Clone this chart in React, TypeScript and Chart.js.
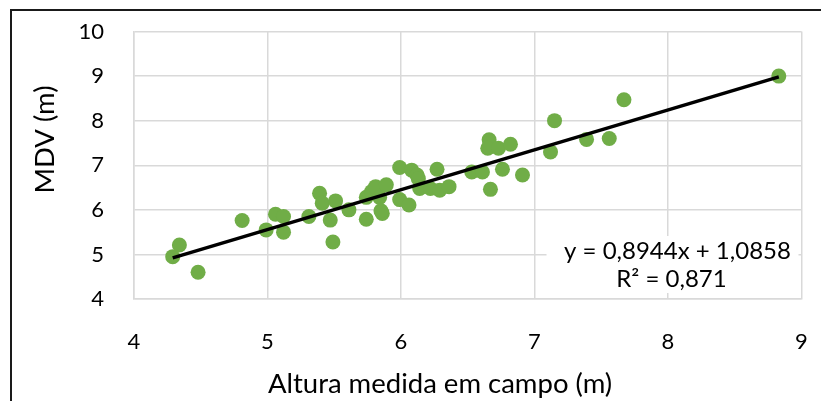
import React, { useEffect, useRef } from "react";
import Chart from "chart.js/auto";

const alturaCampo = [
  4.29, 4.34, 4.48, 4.81, 4.99, 5.06, 5.12, 5.12, 5.31, 5.39, 5.41, 5.47, 5.49, 5.51,
  5.61, 5.74, 5.74, 5.78, 5.81, 5.84, 5.86, 5.85, 5.89, 5.99, 5.99, 6.06, 6.08, 6.12,
  6.13, 6.14, 6.22, 6.27, 6.29, 6.36, 6.53, 6.61, 6.66, 6.65, 6.67, 6.73, 6.76, 6.82,
  6.91, 7.12, 7.15, 7.39, 7.56, 7.67, 8.83,
];
const mdv = [
  4.95, 5.21, 4.6, 5.76, 5.55, 5.9, 5.85, 5.5, 5.85, 6.37, 6.15, 5.77, 5.28, 6.2,
  6.0, 6.28, 5.79, 6.41, 6.52, 6.28, 5.92, 5.98, 6.56, 6.95, 6.23, 6.11, 6.89, 6.78,
  6.7, 6.48, 6.48, 6.91, 6.44, 6.52, 6.85, 6.85, 7.57, 7.38, 6.46, 7.38, 6.91, 7.47,
  6.78, 7.3, 8.0, 7.58, 7.6, 8.47, 9.0,
];
const slope = 0.8944;
const intercept = 1.0858;
const equationLines = ["y = 0,8944x + 1,0858", "R² = 0,871"];
const xTitle = "Altura medida em campo (m)";
const yTitle = "MDV (m)";
const xRange = [4, 9];
const yRange = [4, 10];

const FONT = "Lato, 'Open Sans', sans-serif";

export default function App() {
  const ref = useRef<HTMLCanvasElement | null>(null);
  useEffect(() => {
    document.body.style.margin = "0";
    document.body.style.overflow = "hidden";
    const canvas = ref.current!;
    const points = alturaCampo.map((x, i) => ({ x, y: mdv[i] }));
    const xMin = Math.min(...alturaCampo);
    const xMax = Math.max(...alturaCampo);
    const trend = [
      { x: xMin, y: slope * xMin + intercept },
      { x: xMax, y: slope * xMax + intercept },
    ];
    const overlay = {
      id: "overlay",
      afterDraw(chart: any) {
        const ctx = chart.ctx as CanvasRenderingContext2D;
        const a = chart.chartArea;
        ctx.save();
        // outer frame
        ctx.fillStyle = "#1a1a1a";
        ctx.fillRect(10, 9, chart.width - 10, 2);
        ctx.fillRect(10, 9, 2, chart.height - 9);
        // equation label
        ctx.fillStyle = "#ffffff";
        ctx.fillRect(a.right - 255, a.bottom - 63, 252, 57);
        ctx.fillStyle = "#000000";
        ctx.font = `24px ${FONT}`;
        ctx.textAlign = "center";
        ctx.textBaseline = "middle";
        ctx.fillText(equationLines[0], a.right - 124, a.bottom - 48);
        ctx.fillText(equationLines[1], a.right - 130, a.bottom - 20);
        // axis titles
        ctx.font = `27.5px ${FONT}`;
        ctx.fillStyle = "#000000";
        ctx.fillText(xTitle, a.left + 306, chart.height - 17);
        ctx.save();
        ctx.translate(45, a.top + 108);
        ctx.rotate(-Math.PI / 2);
        ctx.fillText(yTitle, 0, 0);
        ctx.restore();
        ctx.restore();
      },
    };
    const gridColor = "#d9d9d9";
    const chart = new Chart(canvas, {
      type: "scatter",
      data: {
        datasets: [
          {
            data: trend,
            showLine: true,
            borderColor: "#000000",
            borderWidth: 3.5,
            pointRadius: 0,
            order: 0,
          },
          {
            data: points,
            backgroundColor: "#70AD47",
            borderWidth: 0,
            pointRadius: 7.5,
            order: 1,
          },
        ],
      },
      options: {
        responsive: false,
        animation: false,
        layout: { padding: { left: 0, top: 31.5, right: 19.5, bottom: 0 } },
        plugins: { legend: { display: false }, tooltip: { enabled: false } },
        scales: {
          x: {
            type: "linear",
            min: xRange[0],
            max: xRange[1],
            ticks: { stepSize: 1, padding: 2, color: "#000", font: { family: FONT, size: 22 } },
            grid: {
              color: gridColor,
              lineWidth: 1.5,
              drawTicks: true,
              tickLength: 28,
              tickColor: "rgba(0,0,0,0)",
            },
            border: { color: gridColor, width: 1.5 },
            afterFit: (s: any) => {
              s.height = 102;
            },
          },
          y: {
            type: "linear",
            min: yRange[0],
            max: yRange[1],
            ticks: { stepSize: 1, padding: 2, color: "#000", font: { family: FONT, size: 22 } },
            grid: {
              color: gridColor,
              lineWidth: 1.5,
              drawTicks: true,
              tickLength: 28,
              tickColor: "rgba(0,0,0,0)",
            },
            border: { color: gridColor, width: 1.5 },
            afterFit: (s: any) => {
              s.width = 134;
            },
          },
        },
      },
      plugins: [overlay],
    });
    return () => chart.destroy();
  }, []);
  return <canvas ref={ref} width={821} height={401} style={{ display: "block" }} />;
}
